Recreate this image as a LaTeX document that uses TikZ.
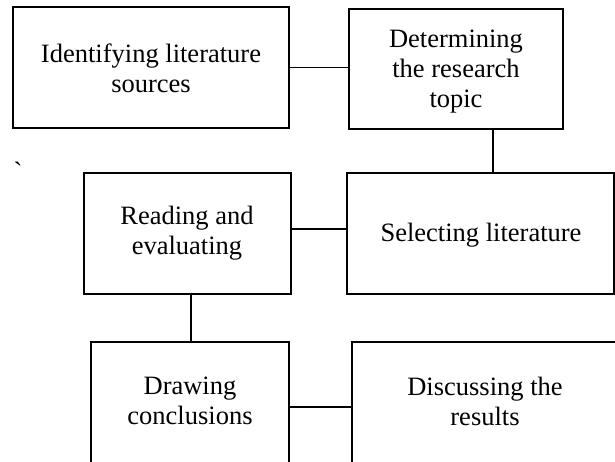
\documentclass[tikz,border=0pt]{standalone}
\usepackage{fontspec}
\setmainfont{Liberation Serif}
\begin{document}
\begin{tikzpicture}[x=1pt,y=-1pt,
  stepbox/.style={draw=black, line width=1.3pt, inner sep=0pt},
  steptext/.style={align=center, inner sep=0pt, anchor=north,
    font=\fontsize{26.5}{30}\selectfont},
  link/.style={draw=black, line width=1.3pt}]
\useasboundingbox[fill=white] (0,0) rectangle (615,461);
% boxes
\node[stepbox, minimum width=276pt, minimum height=121pt] (b1) at (151,67.5) {};
\node[stepbox, minimum width=214pt, minimum height=120pt] (b2) at (456,69) {};
\node[stepbox, minimum width=207pt, minimum height=121pt] (b3) at (187.5,233.5) {};
\node[stepbox, minimum width=267pt, minimum height=121pt] (b4) at (480.5,233.5) {};
\node[stepbox, minimum width=198pt, minimum height=126pt] (b5) at (190,405) {};
\node[stepbox, minimum width=266pt, minimum height=126pt] (b6) at (485,405) {};
% texts (top of first line = baseline - 18pt)
\node[steptext] (t1) at (151,44) {Identifying literature\\sources};
\node[steptext] (t2) at (456,29.5) {Determining\\the research\\topic};
\node[steptext] (t3) at (187,206) {Reading and\\evaluating};
\node[steptext] (t4) at (481,223) {Selecting literature};
\node[steptext] (t5) at (190,377) {Drawing\\conclusions};
\node[steptext] (t6) at (485,377) {Discussing the\\results};
\node[font=\fontsize{26.5}{30}\selectfont, inner sep=0pt, anchor=base] (tick) at (18,180) {\textasciigrave};
% connectors
\draw[link] (b1.east) -- (b2.west |- b1.east);
\draw[link] ([xshift=37pt]b2.south) -- ([xshift=37pt]b2.south |- b4.north);
\draw[link] ([yshift=4.5pt]b3.east) -- ([yshift=4.5pt]b3.east -| b4.west);
\draw[link] ([xshift=3.5pt]b3.south) -- ([xshift=3.5pt]b3.south |- b5.north);
\draw[link] ([yshift=-2pt]b5.east) -- ([yshift=-2pt]b5.east -| b6.west);
\end{tikzpicture}
\end{document}
